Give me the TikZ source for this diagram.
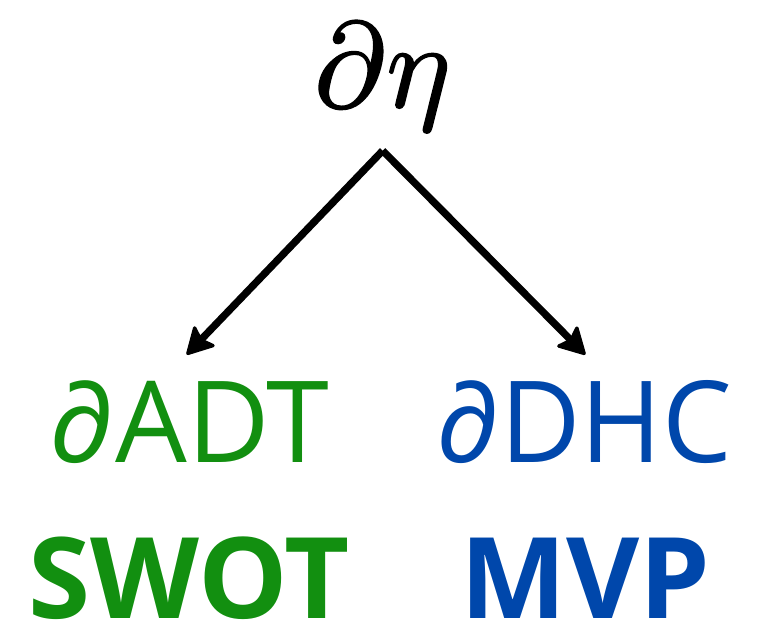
\documentclass[tikz,border=0pt]{standalone}
\usepackage{fontspec}
\setmainfont{Open Sans}
\usepackage{unicode-math}
\setmathfont{Latin Modern Math}[FakeBold=1.2]
\definecolor{gr}{HTML}{128F10}
\definecolor{bl}{HTML}{0047AB}
\tikzset{
 lab/.style={inner sep=0pt,anchor=base,font=\fontsize{85pt}{90pt}\selectfont},
 big/.style={inner sep=0pt,anchor=base,font=\fontsize{84.5pt}{90pt}\selectfont\bfseries},
 arr/.style={line width=5.5pt,-{Stealth[length=22pt,width=24pt,inset=4pt,round,line width=2.5pt]}}
}
\usetikzlibrary{arrows.meta}
\begin{document}
\begin{tikzpicture}[x=1pt,y=-1pt]
\useasboundingbox (0,0) rectangle (576.75,470.25);
\node[inner sep=0pt,anchor=center] (eta) at (286.5,57.5) {\fontsize{91pt}{96pt}\selectfont $\partial\eta$};
\coordinate (top) at (287,113);
\node[lab,text=gr] (adt) at (142,347) {∂ADT};
\node[lab,text=bl,xscale=.975] (dhc) at (438,347) {∂DHC};
\node[big,text=gr] (swot) at (142,464.2) {SWOT};
\node[big,text=bl] (mvp) at (439,464.2) {MVP};
\coordinate (l) at (140,266);
\coordinate (r) at (439,266);
\draw[arr] (top) -- (l);
\draw[arr] (top) -- (r);
\end{tikzpicture}
\end{document}
